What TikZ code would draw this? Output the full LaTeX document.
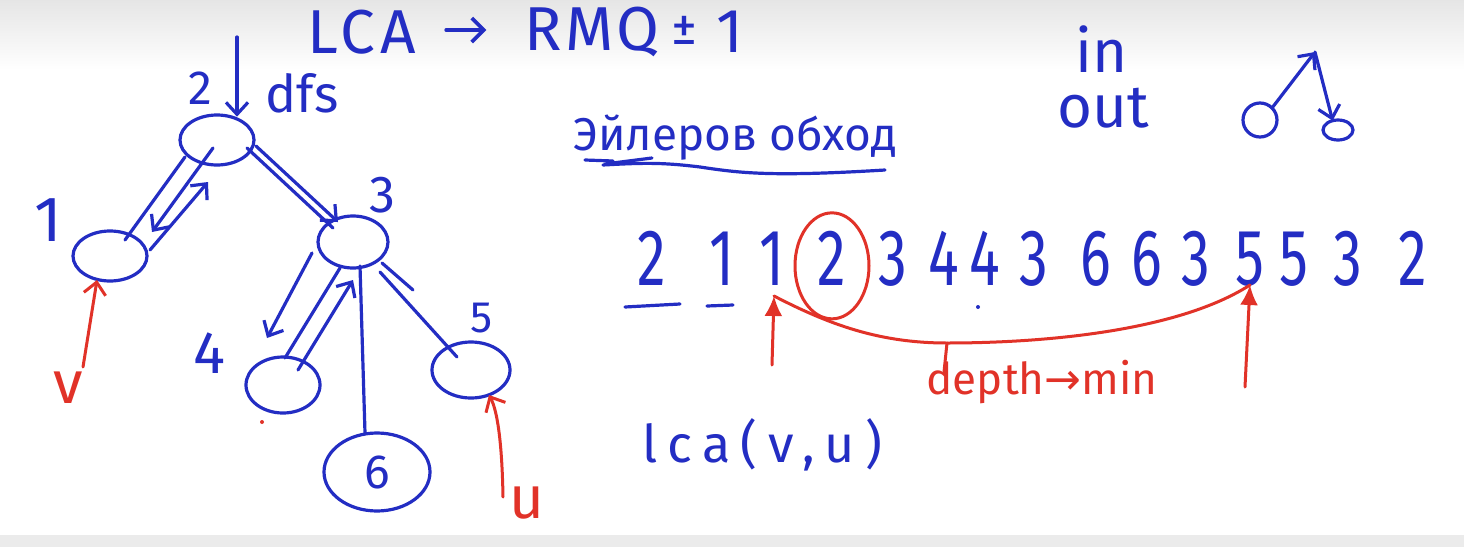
\documentclass[tikz,border=0pt]{standalone}
\usepackage{fontspec}
\usepackage{graphicx}
\usetikzlibrary{arrows.meta,shapes.geometric,calc}
\setmainfont{Fira Sans}
\newfontfamily\sym{DejaVu Sans}
\definecolor{pen}{RGB}{35,45,195}
\definecolor{ink}{RGB}{225,50,40}
\begin{document}
\begin{tikzpicture}[x=0.5pt,y=-0.5pt,
  every node/.style={inner sep=0pt, outer sep=0pt},
  bl/.style={draw=pen, line width=1.6pt, line cap=round, line join=round},
  rd/.style={draw=ink, line width=1.5pt, line cap=round, line join=round},
  vert/.style={ellipse, draw=pen, line width=1.6pt},
  barb/.style={-{Straight Barb[length=6pt,width=11pt]}},
  fillhead/.style={-{Latex[length=10pt,width=9pt]}},
  lab/.style={text=pen, font=\fontsize{#1}{#1}\selectfont},
  rlab/.style={text=ink, font=\fontsize{#1}{#1}\selectfont},
  seq/.style={text=pen, font=\fontsize{40}{40}\selectfont, anchor=base},
]
% background
\fill[white] (0,0) rectangle (1464,547);
\shade[top color=black!10, bottom color=white] (0,0) rectangle (1464,70);
\fill[black!8] (0,535) rectangle (1464,547);
\useasboundingbox (0,0) rectangle (1464,547);

% title
\node[lab=31] (tLCA) at (362,32) {\addfontfeature{LetterSpace=8}LCA};
\node[lab=31] (tRMQ) at (592,32) {\addfontfeature{LetterSpace=6}RMQ};
\draw[bl, line width=1.8pt, -{Straight Barb[length=6pt,width=12pt]}, shorten <=15pt, shorten >=19pt] (tLCA.east |- 0,30) -- (tRMQ.west |- 0,30);
\node[lab=26] (tpm) at (684,30) {±};
\node[lab=31] (tone) at (730,32) {1};

% tree
\node[vert, minimum width=37pt, minimum height=25pt] (n2) at (217,140) {};
\node[vert, minimum width=37pt, minimum height=25pt] (n1) at (110,256) {};
\node[vert, minimum width=35pt, minimum height=26pt] (n3) at (353,242) {};
\node[vert, minimum width=37pt, minimum height=28pt] (n4) at (283,385) {};
\node[vert, minimum width=39pt, minimum height=28pt] (n5) at (471,370) {};
\node[vert, minimum width=53pt, minimum height=39pt, lab=24] (n6) at (377,472) {6};

\node[lab=24] (l2) at (200,88) {2};
\node[lab=32] (l1) at (48,220) {1};
\node[lab=26] (l3) at (382,195) {3};
\node[lab=30] (l4) at (209,353) {4};
\node[lab=22] (l5) at (482,318) {5};
\node[lab=26] (dfs) at (302,93) {dfs};

\coordinate (dtop) at (237,37);
\draw[bl,barb] (dtop) -- (dtop |- n2.60);

% edges and traversal arrows
\draw[bl] ($(n2)+(-32,17)$) -- ($(n1)+(15,-16)$);
\draw[bl,barb] ($(n2)+(-4,8)$) -- ($(n1)+(42,-24)$);
\draw[bl,barb] ($(n1)+(40,-6)$) -- ($(n2)+(-9,42)$);
\draw[bl] ($(n2)+(30,8)$) -- ($(n3)+(-20,-14)$);
\draw[bl,barb] ($(n2)+(39,6)$) -- ($(n3)+(-15,-20)$);
\draw[bl] ($(n3)+(-13,26)$) -- ($(n4)+(2,-27)$);
\draw[bl,barb] ($(n3)+(-41,11)$) -- ($(n4)+(-16,-47)$);
\draw[bl,barb] ($(n4)+(15,-15)$) -- ($(n3)+(0,38)$);
\draw[bl] ($(n3)+(7,24)$) -- ($(n6)+(-12,-39)$);
\draw[bl] ($(n3)+(27,30)$) -- ($(n5)+(-14,-13)$);
\draw[bl] ($(n3)+(29,21)$) -- ($(n3)+(60,48)$);

% red v / u
\coordinate (vtail) at (83,367);
\draw[rd,barb] (vtail) -- ($(n1)+(-13,24)$);
\node[rlab=30] (v) at (68,388) {v};
\coordinate (utail) at (503,497);
\draw[rd,barb] (utail) .. controls (502,440) and (497,410) .. ($(n5)+(18,25)$);
\node[rlab=30] (u) at (527,503) {u};
\fill[ink] (262,422) circle (2);

% Euler tour heading
\node[lab=23] (euler) at (735,138) {Эйлеров обход};
\draw[bl] (585,160) -- (613,161);
\draw[bl] (605,164) -- (652,158);
\draw[bl] (603,165) .. controls (640,163) and (660,162) .. (700,167) .. controls (740,173) and (770,177) .. (885,170);

% in / out
\node[lab=30, anchor=base] (in) at (1102,72) {in};
\node[lab=30, anchor=base] (out) at (1103,127) {out};
\node[circle, draw=pen, line width=1.6pt, minimum size=17pt] (c1) at (1260,120) {};
\node[ellipse, draw=pen, line width=1.6pt, minimum width=15pt, minimum height=10pt] (c2) at (1338,130) {};
\coordinate (apex) at (1315,52);
\draw[bl,barb] (c1.north east) -- (apex);
\draw[bl,barb] (apex) -- (c2.120);

% sequence
\foreach \d/\x [count=\i] in {2/652,1/722,1/772,2/832,3/893,4/944,4/985,3/1034,6/1096,6/1147,3/1196,5/1250,5/1294,3/1348,2/1413}
  \node[seq] (s\i) at (\x,285) {\scalebox{0.72}[1]{\d}};
\draw[bl] ($(s1.base)+(-27,22)$) -- ($(s1.base)+(28,19)$);
\draw[bl] ($(s2.base)+(-15,21)$) -- ($(s2.base)+(11,20)$);
\fill[pen] (978,307) circle (2);

\draw[rd] ($(s4)+(0,8)$) ellipse [x radius=37, y radius=53];
\coordinate (p1) at (772,365);
\coordinate (q1) at ($(s3.base)+(2,11)$);
\coordinate (p2) at (1245,387);
\coordinate (q2) at ($(s12.base)+(0,0)$);
\draw[rd,fillhead] (p1) -- (q1);
\draw[rd,fillhead] (p2) -- (q2);
\coordinate (mid) at (947,343);
\coordinate (tick) at (944,372);
\draw[rd] (q1) .. controls (830,325) and (880,343) .. (mid) .. controls (1050,343) and (1180,330) .. (q2);
\draw[rd] (mid) -- (tick);
\node[rlab=22] (depth) at (1042,382) {depth{\sym →}min};

% lca
\node[lab=26] (lca) at (762,445) {\addfontfeature{LetterSpace=20}lca(v,u)};
\end{tikzpicture}
\end{document}
